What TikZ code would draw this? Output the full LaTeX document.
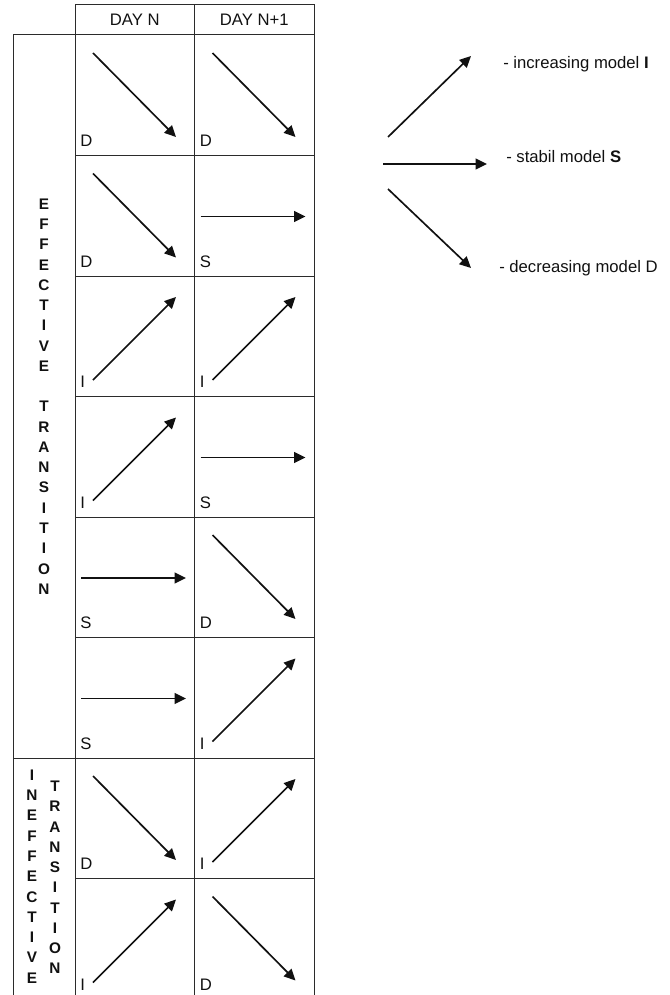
\documentclass[tikz,border=0pt]{standalone}
\usepackage{fontspec}
\setmainfont{Liberation Sans}
\usetikzlibrary{arrows.meta, positioning, calc}
\definecolor{cInk}{HTML}{111111}
\definecolor{cGrid}{HTML}{2b2b2b}
\tikzset{
  >={Triangle[length=8.5pt,width=8pt]},
  grid/.style={draw=cGrid, line width=0.75pt},
  cell/.style={grid, minimum width=89.625pt, minimum height=90.375pt, inner sep=0pt, outer sep=0pt},
  head/.style={grid, minimum width=89.625pt, minimum height=22.5pt, inner sep=0pt, outer sep=0pt,
      text=cInk, font=\fontsize{12.5}{14}\selectfont},
  side/.style={grid, minimum width=46.5pt, inner sep=0pt, outer sep=0pt},
  stack/.style={align=center, inner sep=0pt, text=cInk, font=\bfseries\fontsize{11.5}{15.2}\selectfont},
  lab/.style={anchor=base west, inner sep=0pt, text=cInk, font=\fontsize{12.5}{14}\selectfont},
  trend/.style={->, draw=cInk, line width=1.25pt},
  legend/.style={anchor=west, inner sep=0pt, text=cInk, font=\fontsize{12.5}{14}\selectfont},
}
% arrow + letter inside one cell
\newcommand{\trendD}[1]{%
  \draw[trend] ($(#1.north west)+(18,18)$) -- ($(#1.north west)+(101,102)$);
  \node[lab] (#1l) at ($(#1.south west)+(5,-9)$) {D};}
\newcommand{\trendI}[1]{%
  \draw[trend] ($(#1.north west)+(18,104)$) -- ($(#1.north west)+(101,21)$);
  \node[lab] (#1l) at ($(#1.south west)+(5,-9)$) {I};}
\newcommand{\trendS}[1]{%
  \draw[trend] ($(#1.north west)+(6,61)$) -- ($(#1.north west)+(111,61)$);
  \node[lab] (#1l) at ($(#1.south west)+(5,-9)$) {S};}

\begin{document}
\begin{tikzpicture}[x=0.75pt,y=-0.75pt]
\useasboundingbox (0,0) rectangle (670,995);

% ===================== header =====================
\node[head] (hA) at (134.75,20) {DAY N};
\node[head] (hB) at (254.25,20) {DAY N+1};

% ===================== side labels =====================
\node[side, minimum height=542.25pt] (eff) at (44,396.5) {};
\node[stack] (effT) at (eff.center)
     {E\\F\\F\\E\\C\\T\\I\\V\\E\\\mbox{}\\T\\R\\A\\N\\S\\I\\T\\I\\O\\N};
\node[side, minimum height=180.75pt] (ineff) at (44,878.5) {};
\node[stack] (ineffW) at (32,876.5) {I\\N\\E\\F\\F\\E\\C\\T\\I\\V\\E};
\node[stack] (ineffT) at (55,877.5) {T\\R\\A\\N\\S\\I\\T\\I\\O\\N};

% ===================== grid =====================
\node[cell] (a1) at (134.75,95.25) {};  \node[cell] (b1) at (254.25,95.25) {};
\node[cell] (a2) at (134.75,215.75) {}; \node[cell] (b2) at (254.25,215.75) {};
\node[cell] (a3) at (134.75,336.25) {}; \node[cell] (b3) at (254.25,336.25) {};
\node[cell] (a4) at (134.75,456.75) {}; \node[cell] (b4) at (254.25,456.75) {};
\node[cell] (a5) at (134.75,577.25) {}; \node[cell] (b5) at (254.25,577.25) {};
\node[cell] (a6) at (134.75,697.75) {}; \node[cell] (b6) at (254.25,697.75) {};
\node[cell] (a7) at (134.75,818.25) {}; \node[cell] (b7) at (254.25,818.25) {};
\node[cell] (a8) at (134.75,938.75) {}; \node[cell] (b8) at (254.25,938.75) {};

\trendD{a1} \trendD{b1}
\trendD{a2} \trendS{b2}
\trendI{a3} \trendI{b3}
\trendI{a4} \trendS{b4}
\trendS{a5} \trendD{b5}
\trendS{a6} \trendI{b6}
\trendD{a7} \trendI{b7}
\trendI{a8} \trendD{b8}

% ===================== legend =====================
\coordinate (incA) at (388,137);
\coordinate (incB) at (471,56);
\coordinate (stbA) at (383,164);
\coordinate (stbB) at (487,164);
\coordinate (decA) at (388,189);
\coordinate (decB) at (471,268);
\draw[trend] (incA) -- (incB);
\draw[trend] (stbA) -- (stbB);
\draw[trend] (decA) -- (decB);
\node[legend] (lgI) at (503,64) {- increasing model \textbf{I}};
\node[legend] (lgS) at (506,157) {- stabil model \textbf{S}};
\node[legend] (lgD) at (499,268) {- decreasing model D};

\end{tikzpicture}
\end{document}
